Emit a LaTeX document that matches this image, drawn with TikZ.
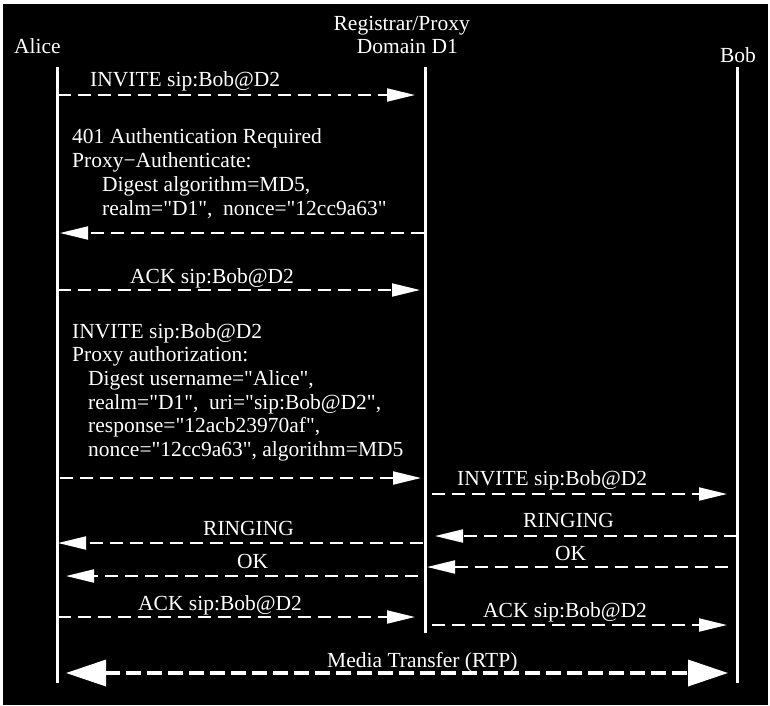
\documentclass[tikz,border=0pt]{standalone}
\usepackage{fontspec}
\setmainfont{Liberation Serif}[Ligatures=TeXOff]
\usetikzlibrary{arrows.meta}
\tikzset{
  lbl/.style={text=white, font=\fontsize{21.5}{24}\selectfont, inner sep=0pt, anchor=base west},
  life/.style={draw=white, line width=3pt},
  msg/.style={draw=white, line width=2pt, dash pattern=on 13pt off 7pt, -{Triangle[length=28pt,width=13pt]}},
  media/.style={draw=white, line width=3.5pt, dash pattern=on 15pt off 6pt,
    {Triangle[length=40pt,width=26pt]}-{Triangle[length=40pt,width=26pt]}},
}
\begin{document}
\begin{tikzpicture}[x=1pt,y=-1pt]
\useasboundingbox (0,0) rectangle (770,705);
\fill[white] (0,0) rectangle (770,705);
\fill[black] (3,4) rectangle (768,705);

% headers
\node[lbl, anchor=base] (alice) at (37.5,53) {Alice};
\node[lbl, anchor=base east] (reg1) at (470,30) {Registrar/Proxy};
\node[lbl, anchor=base east] (reg2) at (458,53) {Domain D1};
\node[lbl, anchor=base] (bob) at (738,62) {Bob};

% lifelines
\coordinate (aT) at (57,67);  \coordinate (aB) at (57,683);
\coordinate (pT) at (425,67); \coordinate (pB) at (425,633);
\coordinate (bT) at (737,67); \coordinate (bB) at (737,683);
\draw[life] (aT) -- (aB);
\draw[life] (pT) -- (pB);
\draw[life] (bT) -- (bB);

% 1 INVITE
\node[lbl] (l1) at (90,86) {INVITE sip:Bob@D2};
\coordinate (m1s) at (58,95); \coordinate (m1e) at (415,95);
\draw[msg] (m1s) -- (m1e);

% 2 401
\node[lbl] (l2a) at (72,143) {401 Authentication Required};
\node[lbl] (l2b) at (72,167) {Proxy−Authenticate:};
\node[lbl] (l2c) at (102,191) {Digest algorithm=MD5,};
\node[lbl] (l2d) at (102,215) {realm="D1", \ nonce="12cc9a63"};
\coordinate (m2s) at (424,233); \coordinate (m2e) at (60,233);
\draw[msg] (m2s) -- (m2e);

% 3 ACK
\node[lbl] (l3) at (130,283) {ACK sip:Bob@D2};
\coordinate (m3s) at (58,290); \coordinate (m3e) at (420,290);
\draw[msg] (m3s) -- (m3e);

% 4 INVITE with auth
\node[lbl] (l4a) at (72,338) {INVITE sip:Bob@D2};
\node[lbl] (l4b) at (72,361) {Proxy authorization:};
\node[lbl] (l4c) at (88,385) {Digest username="Alice",};
\node[lbl] (l4d) at (88,409) {realm="D1", \ uri="sip:Bob@D2",};
\node[lbl] (l4e) at (88,432) {response="12acb23970af",};
\node[lbl] (l4f) at (88,456) {nonce="12cc9a63", algorithm=MD5};
\coordinate (m4s) at (60,478); \coordinate (m4e) at (421,478);
\draw[msg] (m4s) -- (m4e);

% 5 INVITE proxy -> Bob
\node[lbl] (l5) at (457,485) {INVITE sip:Bob@D2};
\coordinate (m5s) at (432,494); \coordinate (m5e) at (727,494);
\draw[msg] (m5s) -- (m5e);

% 6 RINGING Bob -> proxy
\node[lbl] (l6) at (523,527) {RINGING};
\coordinate (m6s) at (737,536); \coordinate (m6e) at (435,536);
\draw[msg] (m6s) -- (m6e);

% 7 RINGING proxy -> Alice
\node[lbl] (l7) at (203,535) {RINGING};
\coordinate (m7s) at (423,543); \coordinate (m7e) at (58,543);
\draw[msg] (m7s) -- (m7e);

% 8 OK Bob -> proxy
\node[lbl] (l8) at (555,560) {OK};
\coordinate (m8s) at (728,567); \coordinate (m8e) at (427,567);
\draw[msg] (m8s) -- (m8e);

% 9 OK proxy -> Alice
\node[lbl] (l9) at (237,568) {OK};
\coordinate (m9s) at (418,576); \coordinate (m9e) at (66,576);
\draw[msg] (m9s) -- (m9e);

% 10 ACK Alice -> proxy
\node[lbl] (l10) at (138,610) {ACK sip:Bob@D2};
\coordinate (m10s) at (58,617); \coordinate (m10e) at (415,617);
\draw[msg] (m10s) -- (m10e);

% 11 ACK proxy -> Bob
\node[lbl] (l11) at (483,617) {ACK sip:Bob@D2};
\coordinate (m11s) at (432,625); \coordinate (m11e) at (727,625);
\draw[msg] (m11s) -- (m11e);

% 12 Media
\node[lbl] (l12) at (327,667) {Media Transfer (RTP)};
\coordinate (m12s) at (66,673); \coordinate (m12e) at (728,673);
\draw[media] (m12s) -- (m12e);
\end{tikzpicture}
\end{document}
